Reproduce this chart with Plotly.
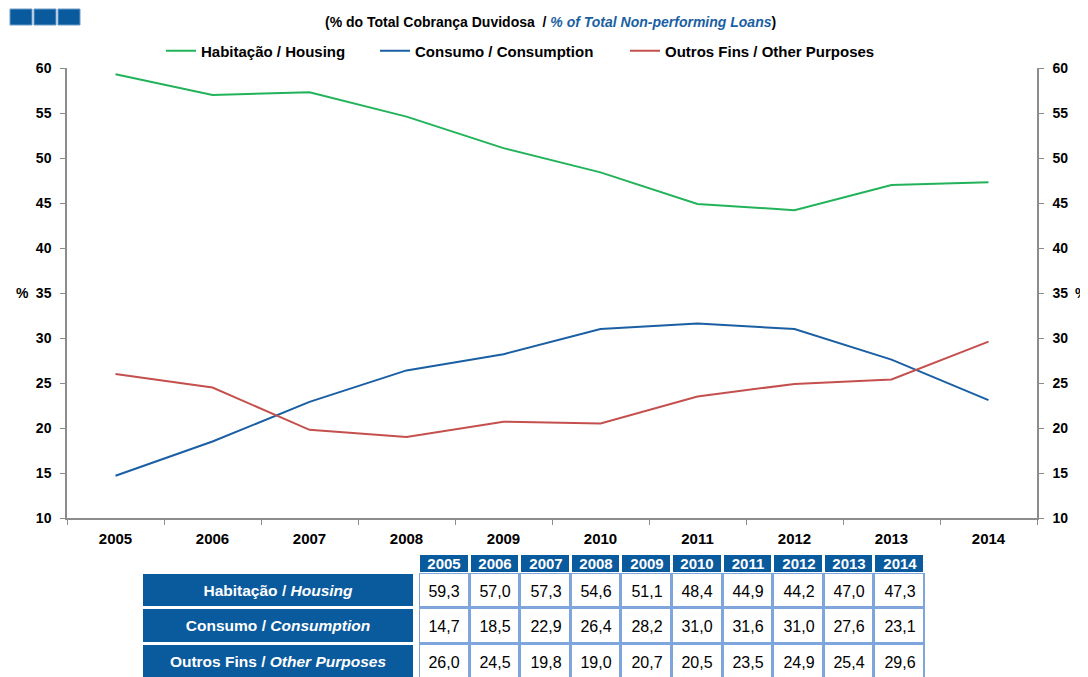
import plotly.graph_objects as go

# data
years = ["2005", "2006", "2007", "2008", "2009", "2010", "2011", "2012", "2013", "2014"]
housing = [59.3, 57.0, 57.3, 54.6, 51.1, 48.4, 44.9, 44.2, 47.0, 47.3]
consumption = [14.7, 18.5, 22.9, 26.4, 28.2, 31.0, 31.6, 31.0, 27.6, 23.1]
other = [26.0, 24.5, 19.8, 19.0, 20.7, 20.5, 23.5, 24.9, 25.4, 29.6]

series_names = ["Habitação / Housing", "Consumo / Consumption", "Outros Fins / Other Purposes"]
row_keys = ["r1", "r2", "r3"]
row_labels = ["<b>Habitação / <i>Housing</i></b>",
              "<b>Consumo / <i>Consumption</i></b>",
              "<b>Outros Fins / <i>Other Purposes</i></b>"]

GREEN = "#22b35a"
BLUE = "#1a5fa3"
RED = "#c4504e"
NAVY = "#0a5a9e"
CELL_LINE = "#7ea6dc"
AXIS = "#8c8c8c"
FONT = "Liberation Sans, Arial, sans-serif"

W, H = 1088, 677
OFF = 8  # page body margin


# page pixel -> paper fraction
def px_x(v):
    return (v - OFF) / W


def px_y(v):
    return 1 - (v - OFF) / H


def fmt(v):
    return f"{v:.1f}".replace(".", ",")


fig = go.Figure()

# ── lines ─────────────────────────────────────────────
legend_ids = ["legend", "legend2", "legend3"]
for name, vals, col, lg, yref in zip(series_names, [housing, consumption, other],
                                     [GREEN, BLUE, RED], legend_ids, ["y", "y", "y2"]):
    fig.add_trace(go.Scatter(x=years, y=vals, name=name, mode="lines", legend=lg,
                             yaxis=yref, line=dict(color=col, width=2)))

# ── table built from heatmaps ─────────────────────────
series = [housing, consumption, other]
fig.add_trace(go.Heatmap(
    x=years, y=["hdr"], z=[[int(y) for y in years]], text=[years],
    texttemplate="<b>%{text}</b>", textfont=dict(family=FONT, size=15, color="white"),
    colorscale=[[0, NAVY], [1, NAVY]], showscale=False, xgap=3,
    xaxis="x3", yaxis="y4", hoverinfo="skip", showlegend=False))

fig.add_trace(go.Heatmap(
    x=years, y=row_keys, z=series, text=[[fmt(v) for v in s] for s in series],
    texttemplate="%{text}", textfont=dict(family=FONT, size=16, color="black"),
    colorscale=[[0, "white"], [1, "white"]], showscale=False, xgap=3, ygap=3,
    xaxis="x3", yaxis="y3", hoverinfo="skip", showlegend=False))

fig.add_trace(go.Heatmap(
    x=["lbl"], y=row_keys, z=[[1], [2], [3]], text=[[t] for t in row_labels],
    texttemplate="%{text}", textfont=dict(family=FONT, size=15.5, color="white"),
    colorscale=[[0, NAVY], [1, NAVY]], showscale=False, ygap=3,
    xaxis="x5", yaxis="y3", hoverinfo="skip", showlegend=False))

hidden = dict(showgrid=False, zeroline=False, showline=False, showticklabels=False,
              ticks="", fixedrange=True)

yax = dict(range=[10, 60], dtick=5, showgrid=False, zeroline=False, automargin=False,
           showline=True, linecolor=AXIS, linewidth=1.5,
           ticks="outside", ticklen=5, tickcolor=AXIS, ticklabelstandoff=6,
           tickfont=dict(family=FONT, size=14, color="black", weight="bold"))

leg = dict(orientation="h", xanchor="left", y=px_y(51), yanchor="middle",
           font=dict(family=FONT, size=15, color="black", weight="bold"),
           bgcolor="rgba(0,0,0,0)")

fig.update_layout(
    width=W, height=H,
    margin=dict(l=0, r=0, t=0, b=0, autoexpand=False),
    paper_bgcolor="white", plot_bgcolor="white",
    font=dict(family=FONT, color="black"),
    showlegend=True,
    xaxis=dict(domain=[px_x(67), px_x(1037)], type="category", range=[-0.5, 9.5],
               showgrid=False, showline=True, linecolor=AXIS, linewidth=1.5, automargin=False,
               ticks="outside", ticklen=5, tickcolor=AXIS, tickson="boundaries",
               ticklabelstandoff=6,
               tickfont=dict(family=FONT, size=15, color="black", weight="bold")),
    yaxis=dict(domain=[px_y(518), px_y(68)], **yax),
    yaxis2=dict(overlaying="y", side="right", anchor="x", **yax),
    xaxis3=dict(domain=[px_x(419), px_x(925)], anchor="y3", type="category", **hidden),
    yaxis3=dict(domain=[px_y(677), px_y(573)], anchor="x3", type="category",
                range=[2.43, -0.5], **hidden),
    yaxis4=dict(domain=[px_y(572), px_y(555)], anchor="x3", type="category", **hidden),
    xaxis5=dict(domain=[px_x(143), px_x(413)], anchor="y3", type="category", **hidden),
    legend=dict(x=px_x(161), **leg),
    legend2=dict(x=px_x(375), **leg),
    legend3=dict(x=px_x(625), **leg),
)

# light-blue grid lines behind the value cells
fig.add_shape(type="rect", xref="x3 domain", yref="y3 domain", x0=0, x1=1, y0=0, y1=1,
              fillcolor=CELL_LINE, line=dict(width=0), layer="below")

fig.add_annotation(
    text=("<b>(% do Total Cobrança Duvidosa  / "
          "<span style='color:" + BLUE + "'><i>% of Total Non-performing Loans</i></span>)</b>"),
    xref="paper", yref="paper", x=px_x(550), y=px_y(22), yanchor="middle", showarrow=False,
    font=dict(family=FONT, size=14, color="black"))

# "%" unit marks beside the 35 ticks
for xpos, anchor in ((31, "right"), (1073, "left")):
    fig.add_annotation(text="<b>%</b>", xref="paper", yref="paper",
                       x=px_x(xpos), y=px_y(293), xanchor=anchor, yanchor="middle",
                       showarrow=False, font=dict(family=FONT, size=14, color="black"))

# logo squares
for x0 in (10, 34, 58):
    fig.add_shape(type="rect", xref="paper", yref="paper",
                  x0=px_x(x0), x1=px_x(x0 + 22), y0=px_y(25), y1=px_y(9),
                  fillcolor=NAVY, line=dict(color="#6d9cc9", width=1))

fig.write_html("out.html")
